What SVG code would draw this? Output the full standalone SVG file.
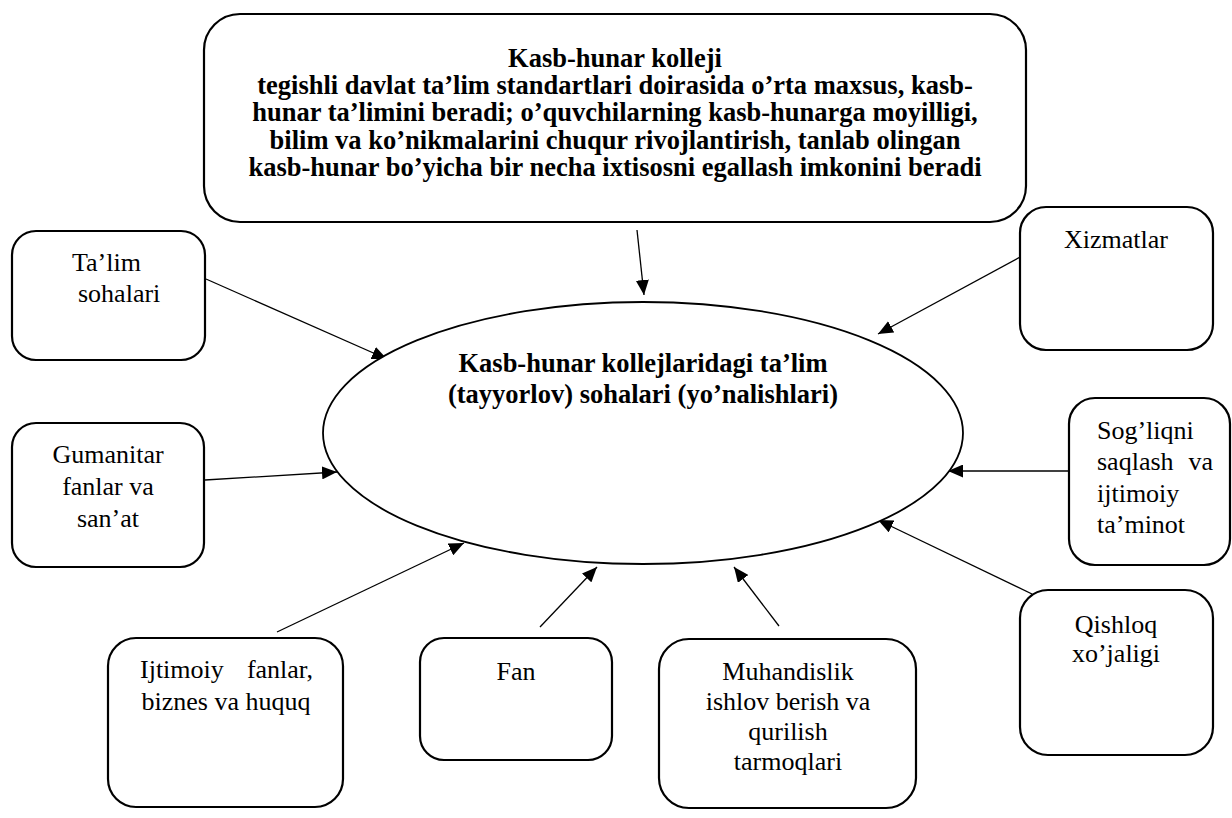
<svg xmlns="http://www.w3.org/2000/svg" width="1232" height="818" viewBox="0 0 1232 818">
<style>
.box{fill:#fff;stroke:#000;stroke-width:2.2}
.ell{fill:#fff;stroke:#000;stroke-width:1.8}
.t{font-family:"Liberation Serif","Times New Roman",serif;font-size:26px;fill:#000}
.b{font-family:"Liberation Serif","Times New Roman",serif;font-size:26.5px;font-weight:bold;fill:#000}
.c{text-anchor:middle}
.e{text-anchor:end}
.arr{stroke:#000;stroke-width:1.3;fill:none;marker-end:url(#ah)}
</style>
<defs>
<marker id="ah" markerUnits="userSpaceOnUse" markerWidth="15" markerHeight="13" refX="15" refY="6.5" orient="auto">
<path d="M0,0 L15,6.5 L0,13 z" fill="#000"/>
</marker>
</defs>
<rect width="1232" height="818" fill="#fff"/>
<g id="connectors">
<line class="arr" x1="637" y1="230" x2="644" y2="295"/>
<line class="arr" x1="206" y1="279" x2="387" y2="359"/>
<line class="arr" x1="205" y1="480" x2="337" y2="472"/>
<line class="arr" x1="277" y1="632" x2="464" y2="543"/>
<line class="arr" x1="540" y1="627" x2="597" y2="567"/>
<line class="arr" x1="779" y1="626" x2="734" y2="567"/>
<line class="arr" x1="1032" y1="594" x2="878" y2="520"/>
<line class="arr" x1="1069" y1="471" x2="948" y2="471"/>
<line class="arr" x1="1024" y1="255" x2="878" y2="334"/>
</g>
<g id="top">
<rect class="box" x="204" y="14" width="822" height="208" rx="36"/>
<text class="b c" x="615" y="67">Kasb-hunar kolleji<tspan x="615" dy="27.2">tegishli davlat ta’lim standartlari doirasida o’rta maxsus, kasb-</tspan><tspan x="615" dy="27.2">hunar ta’limini beradi; o’quvchilarning kasb-hunarga moyilligi,</tspan><tspan x="615" dy="27.2">bilim va ko’nikmalarini chuqur rivojlantirish, tanlab olingan</tspan><tspan x="615" dy="27.2">kasb-hunar bo’yicha bir necha ixtisosni egallash imkonini beradi</tspan></text>
</g>
<g id="center">
<ellipse class="ell" cx="643" cy="433" rx="320" ry="131"/>
<text class="b c" x="643" y="372">Kasb-hunar kollejlaridagi ta’lim<tspan x="643" dy="31">(tayyorlov) sohalari (yo’nalishlari)</tspan></text>
</g>
<g id="talim">
<rect class="box" x="12" y="231" width="193" height="129" rx="24"/>
<text class="t" x="72" y="271">Ta’lim</text>
<text class="t" x="78" y="302">sohalari</text>
</g>
<g id="gumanitar">
<rect class="box" x="12" y="423" width="192" height="144" rx="24"/>
<text class="t c" x="108" y="463">Gumanitar</text>
<text class="t c" x="108" y="495">fanlar va</text>
<text class="t c" x="108" y="527">san’at</text>
</g>
<g id="ijtimoiy">
<rect class="box" x="108" y="638" width="235" height="169" rx="28"/>
<text class="t" x="140" y="678">Ijtimoiy</text>
<text class="t e" x="313" y="678">fanlar,</text>
<text class="t c" x="226" y="710">biznes va huquq</text>
</g>
<g id="fan">
<rect class="box" x="420" y="638" width="192" height="122" rx="24"/>
<text class="t c" x="516" y="680">Fan</text>
</g>
<g id="muhandislik">
<rect class="box" x="659" y="639" width="257" height="169" rx="30"/>
<text class="t c" x="788" y="680">Muhandislik</text>
<text class="t c" x="788" y="710">ishlov berish va</text>
<text class="t c" x="788" y="740">qurilish</text>
<text class="t c" x="788" y="770">tarmoqlari</text>
</g>
<g id="qishloq">
<rect class="box" x="1020" y="590" width="193" height="165" rx="28"/>
<text class="t c" x="1116" y="633">Qishloq</text>
<text class="t c" x="1116" y="662">xo’jaligi</text>
</g>
<g id="sogliqni">
<rect class="box" x="1069" y="398" width="161" height="167" rx="26"/>
<text class="t" x="1097" y="439">Sog’liqni</text>
<text class="t" x="1097" y="470">saqlash</text>
<text class="t e" x="1213" y="470">va</text>
<text class="t" x="1097" y="502">ijtimoiy</text>
<text class="t" x="1097" y="533">ta’minot</text>
</g>
<g id="xizmatlar">
<rect class="box" x="1020" y="207" width="193" height="143" rx="26"/>
<text class="t c" x="1116" y="248">Xizmatlar</text>
</g>
</svg>
